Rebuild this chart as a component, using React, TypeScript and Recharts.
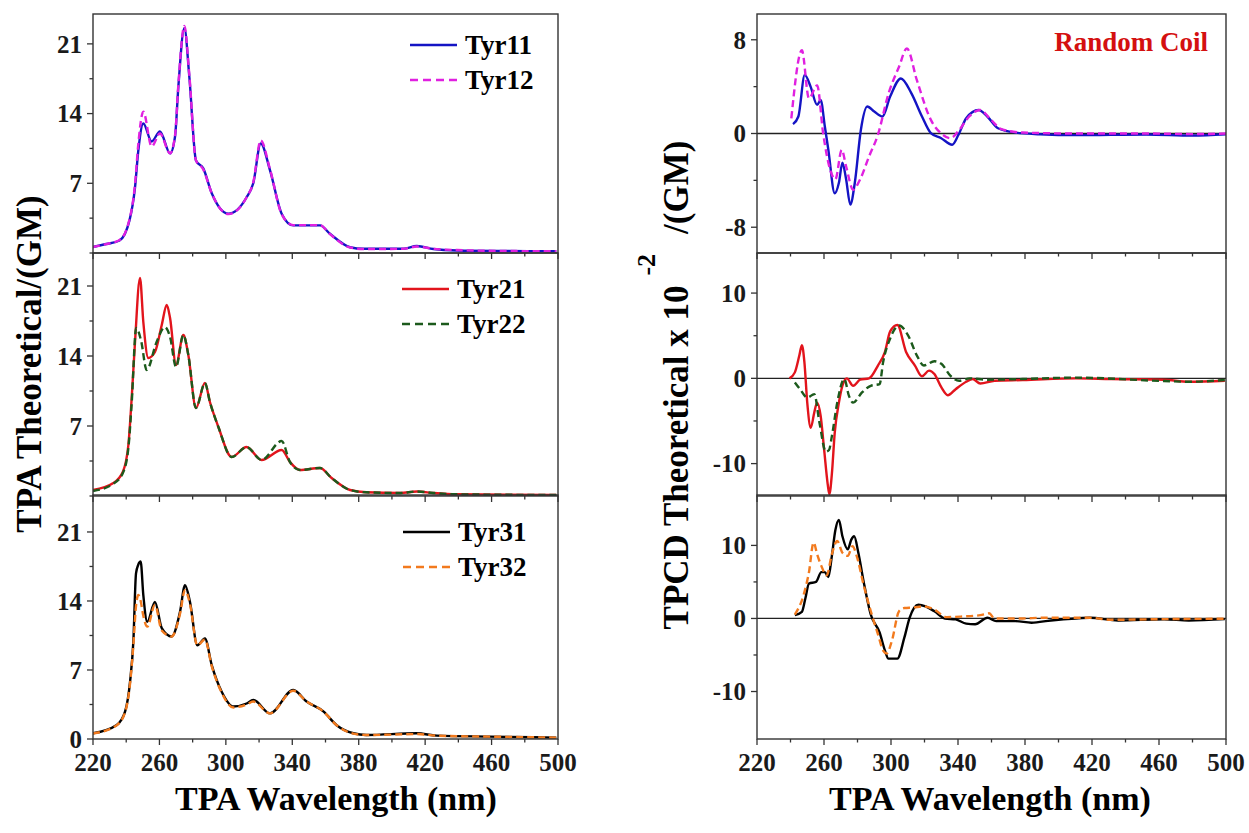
import React from 'react';
import { LineChart, Line, XAxis, YAxis, ReferenceLine } from 'recharts';

const FONT = '"Liberation Serif", "Times New Roman", Times, serif';
const INK = '#1a1a1a';

// ---------- x ticks ----------
const xTicks = [220, 240, 260, 280, 300, 320, 340, 360, 380, 400, 420, 440, 460, 480, 500];
const leftYTicks = [0, 3.5, 7, 10.5, 14, 17.5, 21];
const leftYLabelsUpper = [7, 14, 21];
const leftYLabelsBottom = [0, 7, 14, 21];
const rtYTicks = [-8, -4, 0, 4, 8];
const rtYLabels = [-8, 0, 8];
const rmYTicks = [-10, -5, 0, 5, 10];
const rmYLabels = [-10, 0, 10];

// ---------- TPA (left) ----------
const tyr11Nm = [220, 228, 236, 242, 245.3, 247.3, 250.3, 255.3, 260.3, 266.4, 269.4, 271.4, 275, 278, 282, 286.4, 291.5, 301.5, 312.5, 316.5, 321, 326.6, 333.6, 340.6, 356.7, 362.7, 374.8, 382.8, 407, 415, 425, 439, 470, 499];
const tyr11Val = [0.6, 0.9, 1.26, 3.3, 6.6, 10.3, 13.0, 11.2, 12.2, 10.0, 11.7, 16.7, 22.6, 17.7, 9.3, 8.5, 6.0, 3.95, 5.6, 7.0, 11.0, 8.3, 3.95, 2.77, 2.77, 1.93, 0.58, 0.42, 0.42, 0.7, 0.4, 0.25, 0.2, 0.18];
const tyr12Nm = tyr11Nm;
const tyr12Val = [0.6, 0.9, 1.3, 3.4, 6.9, 11.0, 14.2, 10.7, 12.0, 10.0, 11.8, 16.9, 22.8, 17.9, 9.3, 8.4, 6.0, 3.9, 5.6, 7.1, 11.3, 8.4, 3.9, 2.8, 2.8, 1.9, 0.55, 0.4, 0.42, 0.65, 0.42, 0.3, 0.2, 0.18];

const tyr21Nm = [220, 232, 238, 241.3, 243.3, 245.3, 248.3, 250.3, 253.3, 257.3, 261.4, 264.4, 266.4, 270, 274.4, 277.4, 282, 287.4, 290.4, 295.5, 303.5, 312.5, 321.5, 333.6, 338.6, 344.6, 356.7, 363.7, 374.8, 384.6, 405, 415, 425, 439, 499];
const tyr21Val = [0.6, 1.27, 2.43, 5.1, 9.8, 15.4, 21.8, 17.4, 13.8, 14.4, 17.1, 19.1, 17.8, 13.1, 16.1, 14.1, 8.8, 11.3, 9.4, 6.9, 3.9, 4.9, 3.6, 4.6, 3.4, 2.6, 2.8, 1.8, 0.6, 0.37, 0.3, 0.45, 0.3, 0.17, 0.1];
const tyr22Nm = [220, 232, 238, 241.3, 243.3, 246, 249, 252.3, 258.3, 263.3, 266.4, 270, 274.4, 277.4, 282, 287.4, 290.4, 295.5, 303.5, 312.5, 321.5, 333.6, 338.6, 344.6, 356.7, 363.7, 374.8, 384.6, 405, 415, 425, 439, 499];
const tyr22Val = [0.5, 1.2, 2.3, 4.8, 9.3, 16.8, 15.5, 12.6, 15.4, 16.9, 15.9, 12.9, 16.1, 14.1, 8.8, 11.3, 9.4, 6.9, 3.9, 4.9, 3.6, 5.5, 3.4, 2.6, 2.8, 1.8, 0.6, 0.37, 0.3, 0.45, 0.3, 0.17, 0.1];

const tyr31Nm = [220, 234.3, 239.3, 242.3, 244.3, 245.9, 247.3, 248.7, 250.3, 252.7, 257.3, 261.4, 267.4, 272.4, 275.4, 278.4, 282.8, 287.4, 291.5, 297.5, 304.5, 312.5, 316.5, 326.6, 340.6, 348.6, 358.7, 366.7, 376.8, 384.6, 415, 427, 459, 499];
const tyr31Val = [0.58, 1.42, 2.77, 5.8, 9.9, 16.8, 17.7, 18.0, 14.6, 11.9, 13.9, 11.25, 10.4, 12.9, 15.6, 13.9, 9.5, 10.2, 7.5, 4.8, 3.3, 3.6, 3.96, 2.6, 4.97, 3.8, 2.8, 1.4, 0.58, 0.41, 0.58, 0.34, 0.24, 0.14];
const tyr32Nm = tyr31Nm;
const tyr32Val = [0.55, 1.4, 2.7, 5.6, 9.5, 13.5, 14.6, 14.0, 12.5, 11.4, 13.6, 11.0, 10.4, 12.7, 15.1, 13.7, 9.5, 10.1, 7.4, 4.7, 3.2, 3.5, 3.8, 2.6, 4.9, 3.8, 2.8, 1.4, 0.55, 0.4, 0.5, 0.34, 0.24, 0.14];

// ---------- TPCD (right) ----------
const cd11Nm = [241.5, 244.7, 248.5, 252, 255.9, 258, 260.5, 262.6, 266.4, 268.9, 271, 273.2, 275.7, 278.4, 282, 285.8, 290, 294.9, 299.5, 305.9, 312.2, 318.5, 323.8, 330, 336.5, 340.3, 344.9, 352.3, 357.5, 363.9, 374.4, 389, 410, 452.5, 480, 500];
const cd11Val = [0.8, 1.45, 5.0, 4.0, 2.44, 2.87, 0.6, -1.4, -5.1, -4.2, -2.5, -3.9, -6.07, -4.2, 0.3, 2.3, 1.87, 1.45, 3.15, 4.7, 3.43, 1.45, 0.03, -0.4, -0.96, -0.1, 1.3, 2.0, 1.45, 0.45, 0.08, -0.06, -0.14, -0.08, -0.17, -0.06];
const cd12Nm = [240.5, 246.8, 251, 255.9, 259.5, 263.7, 266.8, 270.6, 273.2, 277.4, 281.6, 286.9, 292.2, 298.5, 304.8, 309.5, 315.4, 323.8, 330, 335.4, 340.7, 347, 353.3, 359.7, 366, 378.6, 410, 452.5, 480, 500];
const cd12Val = [1.3, 7.1, 3.0, 4.1, 0, -3.1, -3.9, -1.4, -2.8, -4.8, -3.9, -1.96, -0.1, 3.4, 5.7, 7.26, 4.57, 1.16, 0, -0.4, 0.3, 1.5, 2.0, 1.16, 0.37, 0.08, 0, 0, -0.05, 0];

const cd21Nm = [239.4, 242.6, 245.3, 246.8, 248.3, 250, 252.1, 254.2, 255.9, 258, 260.1, 262.2, 263.2, 264.7, 266.4, 268.9, 271, 273.6, 277.4, 281.6, 286.9, 292.2, 296.4, 299.5, 303.8, 309, 314.3, 318.5, 322.7, 325.9, 330.1, 333.9, 338.6, 344.9, 348.7, 353.3, 361.8, 378.6, 410.3, 431.4, 463, 477.8, 499.3];
const cd21Val = [0, 0.7, 2.7, 3.9, 1.9, -2.85, -5.8, -4.0, -2.85, -4.4, -8.4, -12.4, -13.6, -11.2, -6.4, -2.85, -0.87, 0, -0.87, -0.16, 0, 1.5, 3.1, 5.5, 6.26, 3.1, 1.5, 0.24, 0.9, 0.5, -1.07, -1.98, -1.27, -0.4, -0.08, -0.6, -0.28, -0.2, 0, -0.08, -0.16, -0.4, -0.28];
const cd22Nm = [242.6, 245.7, 250, 254.2, 257.3, 261.1, 263, 264.7, 267.9, 272.1, 274.9, 277.4, 282.7, 287.9, 293.2, 295.3, 299.5, 304.8, 310.1, 315.4, 319.6, 325.9, 330.1, 335.4, 340.7, 347, 357.6, 378.6, 410, 463, 477.8, 499.3];
const cd22Val = [-0.48, -1.27, -2.26, -1.86, -5.2, -8.6, -8.4, -6.8, -2.85, -0.08, -2.06, -2.85, -1.66, -0.87, -0.67, 1.9, 4.67, 6.2, 5.07, 2.7, 1.5, 2.0, 1.7, 0.32, -0.28, 0, -0.16, -0.08, 0.08, -0.32, -0.4, -0.2];

const cd31Nm = [242.6, 246.8, 248.9, 251, 255.2, 258.4, 260.5, 262.6, 264.7, 266.8, 268.9, 271, 274.2, 276.3, 278, 280.5, 283.7, 287.9, 293.2, 296.4, 298.5, 303.8, 308, 311.1, 316.4, 320.6, 325.9, 332.2, 338.6, 344.9, 350.2, 357.6, 362.8, 374.4, 383.9, 395.5, 410.3, 418.7, 435.6, 463, 477.8, 499.3];
const cd31Val = [0.45, 0.9, 2.77, 4.78, 5.0, 6.34, 6.34, 5.67, 8.57, 12.1, 13.5, 11.25, 9.46, 10.8, 11.25, 9.0, 5.0, 0.54, -1.92, -4.4, -5.5, -5.5, -2.6, 0.09, 1.875, 1.65, 0.98, 0, -0.13, -0.71, -0.8, 0.09, -0.36, -0.36, -0.58, -0.27, 0, 0.09, -0.27, -0.13, -0.27, -0.09];
const cd32Nm = [242.6, 247.8, 251, 253.8, 255.9, 258.4, 261.6, 264.7, 267.9, 271, 274.2, 277, 279.5, 283.7, 287.9, 292.2, 295.3, 297.4, 300.6, 304.8, 308, 313.2, 319.6, 325.9, 333.3, 342.8, 353.3, 358.6, 361.8, 378.6, 390, 418.7, 431.4, 463, 499.3];
const cd32Val = [0.54, 3.2, 6.3, 10.4, 8.8, 7.2, 5.9, 8.8, 10.6, 9.0, 8.57, 9.9, 8.57, 4.55, 1.0, -2.14, -4.4, -4.8, -3.0, 1.0, 1.43, 1.5, 1.65, 1.2, 0.18, 0.27, 0.45, 0.71, 0, 0, 0.09, 0.09, -0.18, -0.09, -0.04];

// ---------- styling ----------
const C11 = '#1414c4';
const C12 = '#e020e0';
const C21 = '#e2141c';
const C22 = '#1c5a1c';
const C31 = '#000000';
const C32 = '#f27a1e';
const DASH = '7 4';

const TS = 6;
const TM = 5;
const FRAME = '#333';

type S = { name: string; nm: number[]; val: number[]; color: string; dashed: boolean };

const toData = (nm: number[], val: number[]) => nm.map((x, i) => ({ nm: x, v: val[i] }));

type PanelProps = {
  x0: number; y0: number; w: number; h: number;
  domain: [number, number];
  yTicks: number[]; yLabels: number[];
  showX: boolean; zero: boolean; series: S[];
};

function Panel({ x0, y0, w, h, domain, yTicks, yLabels, showX, zero, series }: PanelProps) {
  const padL = 80, padT = 4, padR = 30, xH = 50;
  const yTick = (p: any) => {
    const { x, y, payload } = p;
    const ax = x + TS + TM;
    const major = yLabels.includes(payload.value);
    return (
      <g>
        <line x1={ax - (major ? 6 : 3.5)} x2={ax} y1={y} y2={y} stroke={FRAME} strokeWidth={1.3} />
        {major && (
          <text x={x} y={y} dy="0.35em" textAnchor="end" fontFamily={FONT} fontWeight="bold" fontSize={25} fill={INK}>
            {payload.value}
          </text>
        )}
      </g>
    );
  };
  const xTick = (p: any) => {
    const { x, y, payload } = p;
    const ay = y - TS - TM;
    const major = (payload.value - 220) % 40 === 0;
    return (
      <g>
        <line x1={x} x2={x} y1={ay} y2={ay + (major ? 6 : 3.5)} stroke={FRAME} strokeWidth={1.3} />
        {showX && major && (
          <text x={x} y={ay + 14} dy="0.71em" textAnchor="middle" fontFamily={FONT} fontWeight="bold" fontSize={25} fill={INK}>
            {payload.value}
          </text>
        )}
      </g>
    );
  };
  return (
    <div style={{ position: 'absolute', left: x0 - padL, top: y0 - padT }}>
      <LineChart width={w + padL + padR} height={h + padT + xH} margin={{ top: padT, right: padR, bottom: 0, left: 0 }}>
        <XAxis dataKey="nm" type="number" domain={[220, 500]} ticks={xTicks} interval={0} height={xH}
          axisLine={false} tickLine={false} tick={xTick} tickSize={TS} tickMargin={TM} allowDataOverflow />
        <YAxis type="number" domain={domain} ticks={yTicks} interval={0} width={padL}
          axisLine={false} tickLine={false} tick={yTick} tickSize={TS} tickMargin={TM} allowDataOverflow />
        {zero && <ReferenceLine y={0} stroke="#222" strokeWidth={1.3} />}
        {series.map((s) => (
          <Line key={s.name} data={toData(s.nm, s.val)} dataKey="v" name={s.name} type="monotone"
            stroke={s.color} strokeWidth={2.4} strokeDasharray={s.dashed ? DASH : undefined}
            dot={false} activeDot={false} isAnimationActive={false} />
        ))}
      </LineChart>
    </div>
  );
}

// panel geometry
const LX = 93, LW = 465;
const RX = 757, RW = 469;
const ROWS = [
  { y: 14, h: 239 },
  { y: 253, h: 243 },
  { y: 495, h: 244 },
];

const legends = [
  { x: 410, y: 45, name: 'Tyr11', color: C11, dashed: false },
  { x: 410, y: 80, name: 'Tyr12', color: C12, dashed: true },
  { x: 402, y: 289, name: 'Tyr21', color: C21, dashed: false },
  { x: 402, y: 324, name: 'Tyr22', color: C22, dashed: true },
  { x: 403, y: 532, name: 'Tyr31', color: C31, dashed: false },
  { x: 403, y: 567, name: 'Tyr32', color: C32, dashed: true },
];

export default function App() {
  return (
    <div style={{ position: 'absolute', left: 0, top: 0, width: 1249, height: 833, background: '#fff', overflow: 'hidden' }}>
      <Panel x0={LX} y0={ROWS[0].y} w={LW} h={ROWS[0].h} domain={[0, 24]} yTicks={leftYTicks} yLabels={leftYLabelsUpper}
        showX={false} zero={false}
        series={[
          { name: 'Tyr11', nm: tyr11Nm, val: tyr11Val, color: C11, dashed: false },
          { name: 'Tyr12', nm: tyr12Nm, val: tyr12Val, color: C12, dashed: true },
        ]} />
      <Panel x0={LX} y0={ROWS[1].y} w={LW} h={ROWS[1].h} domain={[0, 24.3]} yTicks={leftYTicks} yLabels={leftYLabelsUpper}
        showX={false} zero={false}
        series={[
          { name: 'Tyr21', nm: tyr21Nm, val: tyr21Val, color: C21, dashed: false },
          { name: 'Tyr22', nm: tyr22Nm, val: tyr22Val, color: C22, dashed: true },
        ]} />
      <Panel x0={LX} y0={ROWS[2].y} w={LW} h={ROWS[2].h} domain={[0, 24.75]} yTicks={leftYTicks} yLabels={leftYLabelsBottom}
        showX={true} zero={false}
        series={[
          { name: 'Tyr31', nm: tyr31Nm, val: tyr31Val, color: C31, dashed: false },
          { name: 'Tyr32', nm: tyr32Nm, val: tyr32Val, color: C32, dashed: true },
        ]} />

      <Panel x0={RX} y0={ROWS[0].y} w={RW} h={ROWS[0].h} domain={[-10.2, 10.2]} yTicks={rtYTicks} yLabels={rtYLabels}
        showX={false} zero={true}
        series={[
          { name: 'Tyr11', nm: cd11Nm, val: cd11Val, color: C11, dashed: false },
          { name: 'Tyr12', nm: cd12Nm, val: cd12Val, color: C12, dashed: true },
        ]} />
      <Panel x0={RX} y0={ROWS[1].y} w={RW} h={ROWS[1].h} domain={[-13.8, 14.7]} yTicks={rmYTicks} yLabels={rmYLabels}
        showX={false} zero={true}
        series={[
          { name: 'Tyr21', nm: cd21Nm, val: cd21Val, color: C21, dashed: false },
          { name: 'Tyr22', nm: cd22Nm, val: cd22Val, color: C22, dashed: true },
        ]} />
      <Panel x0={RX} y0={ROWS[2].y} w={RW} h={ROWS[2].h} domain={[-16.5, 16.9]} yTicks={rmYTicks} yLabels={rmYLabels}
        showX={true} zero={true}
        series={[
          { name: 'Tyr31', nm: cd31Nm, val: cd31Val, color: C31, dashed: false },
          { name: 'Tyr32', nm: cd32Nm, val: cd32Val, color: C32, dashed: true },
        ]} />

      <svg width={1249} height={833} style={{ position: 'absolute', left: 0, top: 0, pointerEvents: 'none' }}>
        {ROWS.map((r, i) => (
          <g key={i}>
            <rect x={LX} y={r.y} width={LW} height={r.h} fill="none" stroke={FRAME} strokeWidth={1.4} />
            <rect x={RX} y={r.y} width={RW} height={r.h} fill="none" stroke={FRAME} strokeWidth={1.4} />
          </g>
        ))}
        {legends.map((l) => (
          <g key={l.name}>
            <line x1={l.x} x2={l.x + 47} y1={l.y} y2={l.y} stroke={l.color} strokeWidth={2.5}
              strokeDasharray={l.dashed ? '8 5' : undefined} />
            <text x={l.x + 55} y={l.y} dy="0.35em" fontFamily={FONT} fontWeight="bold" fontSize={27} fill="#000">{l.name}</text>
          </g>
        ))}
        <text x={1208} y={42} dy="0.35em" textAnchor="end" fontFamily={FONT} fontWeight="bold" fontSize={27} fill="#d41010">Random Coil</text>

        <text transform="translate(41,364) rotate(-90)" textAnchor="middle" fontFamily={FONT} fontWeight="bold" fontSize={35} fill="#000">
          TPA Theoretical/(GM)
        </text>
        <text transform="translate(688,385) rotate(-90)" textAnchor="middle" fontFamily={FONT} fontWeight="bold" fontSize={35} fill="#000">
          <tspan>TPCD Theoretical x 10</tspan>
          <tspan dy={-33} dx={10} fontSize={26}>-2</tspan>
          <tspan dy={33} dx={20}>/(GM)</tspan>
        </text>

        <text x={336} y={810} textAnchor="middle" fontFamily={FONT} fontWeight="bold" fontSize={34} fill="#000">TPA Wavelength (nm)</text>
        <text x={990} y={810} textAnchor="middle" fontFamily={FONT} fontWeight="bold" fontSize={34} fill="#000">TPA Wavelength (nm)</text>
      </svg>
    </div>
  );
}
